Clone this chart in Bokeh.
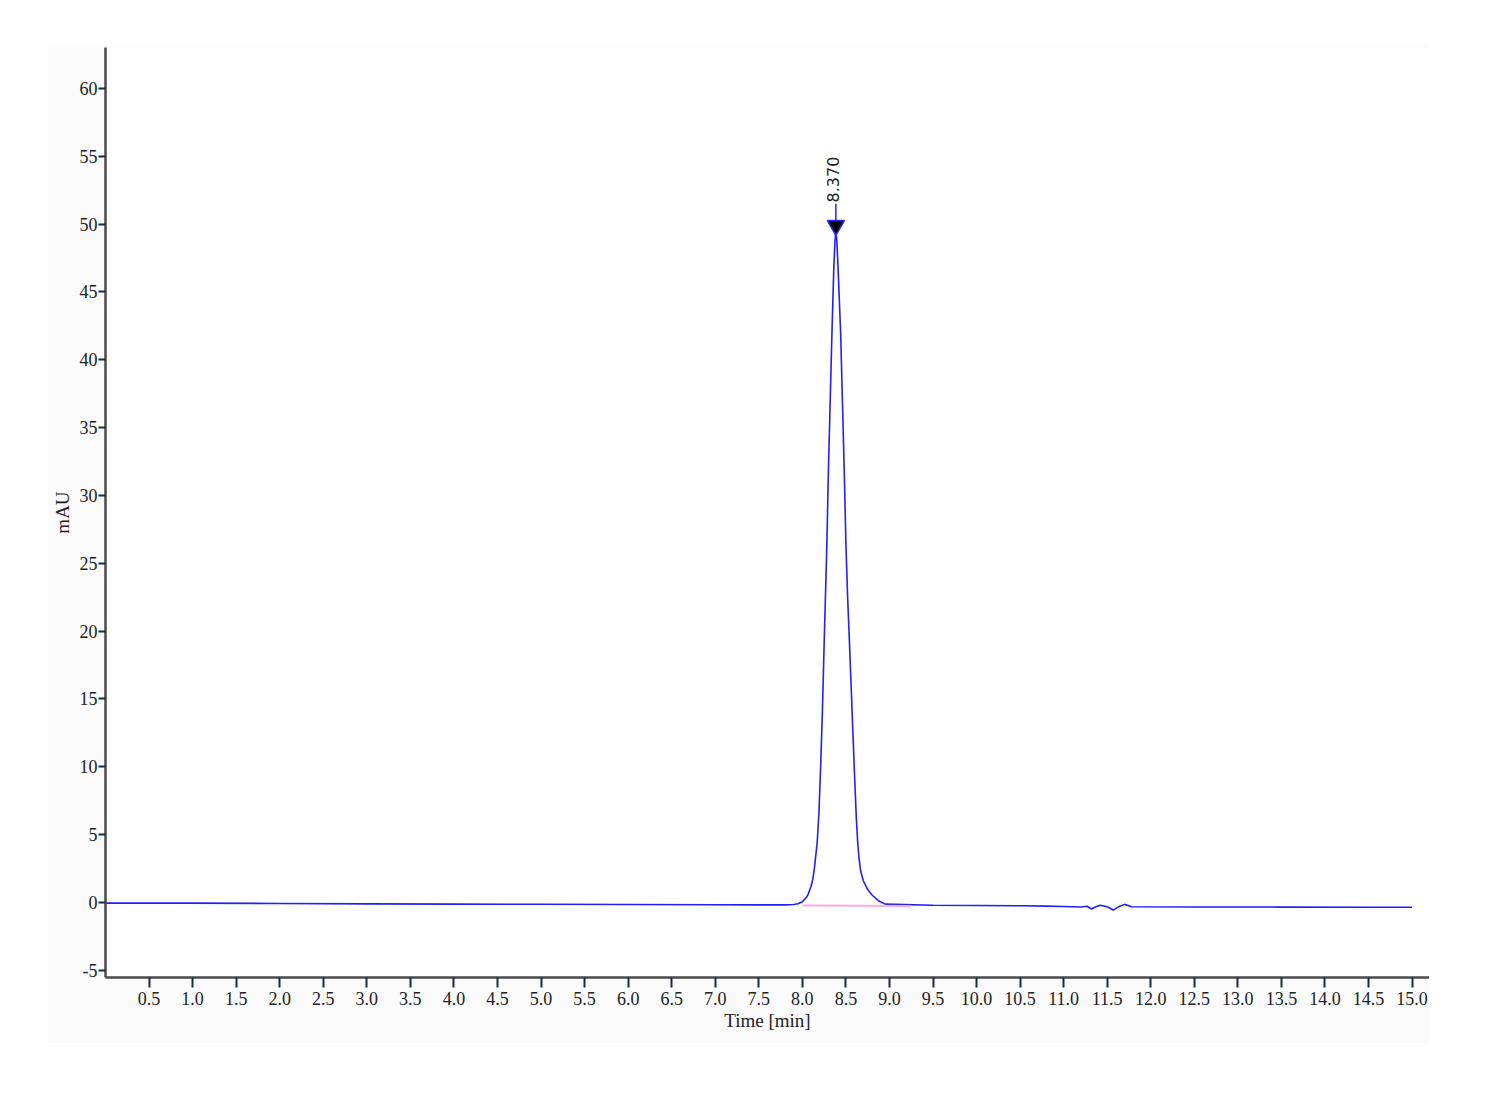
from bokeh.plotting import figure
from bokeh.models import FixedTicker, Range1d, ColumnDataSource
from bokeh.embed import file_html
from bokeh.resources import INLINE
from bokeh.core.properties import value
import math

# Chromatogram signal (time in min, signal in mAU)
time_min = [0.0, 1.0, 2.0, 3.0, 4.0, 5.0, 6.0, 7.0, 7.5, 7.8, 7.9, 7.95,
            8.00, 8.05, 8.07, 8.10, 8.12, 8.14, 8.17, 8.19, 8.21, 8.23, 8.25,
            8.28, 8.30, 8.32, 8.34, 8.36, 8.375, 8.385, 8.395, 8.41, 8.44,
            8.46, 8.48, 8.50, 8.52, 8.54, 8.56, 8.58, 8.60, 8.62, 8.635, 8.65,
            8.67, 8.70, 8.75, 8.80, 8.87, 8.95, 9.5, 10.0, 10.5, 10.8, 11.0,
            11.2, 11.27, 11.32, 11.37, 11.42, 11.50, 11.57, 11.63, 11.70,
            11.78, 12.5, 13.5, 14.5, 15.0]
signal_mau = [-0.05, -0.05, -0.07, -0.10, -0.12, -0.13, -0.15, -0.17, -0.18,
              -0.18, -0.15, -0.10,
              0.05, 0.40, 0.66, 1.20, 1.70, 2.60, 4.40, 6.50, 10.0, 14.0, 19.0,
              26.0, 32.0, 37.0, 42.0, 46.5, 48.8, 49.4, 48.9, 46.8, 41.9,
              37.0, 32.1, 26.5, 22.5, 19.3, 16.0, 12.6, 9.3, 6.2, 4.5, 3.3,
              2.3, 1.6, 0.95, 0.55, 0.15, -0.12, -0.20, -0.22, -0.24, -0.27,
              -0.30, -0.33, -0.28, -0.48, -0.32, -0.20, -0.32, -0.56, -0.32,
              -0.14, -0.32, -0.33, -0.34, -0.35, -0.35]

# Integration baseline of the peak
baseline_time = [8.00, 9.25]
baseline_mau = [-0.22, -0.26]

# Peak marker
peak_time = [8.385]
peak_top = [49.9]
peak_label = ["8.370"]

x_ticks = [0.5, 1.0, 1.5, 2.0, 2.5, 3.0, 3.5, 4.0, 4.5, 5.0, 5.5, 6.0, 6.5,
           7.0, 7.5, 8.0, 8.5, 9.0, 9.5, 10.0, 10.5, 11.0, 11.5, 12.0, 12.5,
           13.0, 13.5, 14.0, 14.5, 15.0]
x_tick_labels = ["0.5", "1.0", "1.5", "2.0", "2.5", "3.0", "3.5", "4.0", "4.5",
                 "5.0", "5.5", "6.0", "6.5", "7.0", "7.5", "8.0", "8.5", "9.0",
                 "9.5", "10.0", "10.5", "11.0", "11.5", "12.0", "12.5", "13.0",
                 "13.5", "14.0", "14.5", "15.0"]
y_ticks = [-5, 0, 5, 10, 15, 20, 25, 30, 35, 40, 45, 50, 55, 60]
y_tick_labels = ["-5", "0", "5", "10", "15", "20", "25", "30", "35", "40",
                 "45", "50", "55", "60"]

SERIF = "Liberation Serif"

p = figure(width=1382, height=998,
           x_range=Range1d(0, 15.2), y_range=Range1d(-5.53, 63.02),
           output_backend="svg", toolbar_location=None,
           min_border_left=58, min_border_right=0, min_border_top=2,
           min_border_bottom=66, margin=(45, 0, 0, 47),
           border_fill_color="#fafafa", background_fill_color="white",
           outline_line_color=None)
p.grid.visible = False

src = ColumnDataSource(dict(t=time_min, s=signal_mau))
p.line("t", "s", source=src, line_color="#1f1fff", line_width=1.6)
p.line(baseline_time, baseline_mau, line_color="#ffaadd", line_width=2)

# marker stem, triangle and label
p.segment(x0=peak_time, y0=[v + 0.4 for v in peak_top],
          x1=peak_time, y1=[v + 1.6 for v in peak_top],
          line_color="#1f1fff", line_width=1.5)
p.scatter(peak_time, peak_top, marker="inverted_triangle", size=17,
          fill_color="black", line_color="#2a2aff", line_width=1.5)
p.text(x=[t - 0.03 for t in peak_time], y=[v + 1.7 for v in peak_top],
       text=peak_label, angle=math.pi / 2, text_align="left",
       text_baseline="middle", text_font=value("DejaVu Sans"),
       text_font_size="16px", text_color="#222222")

for ax in (p.xaxis[0], p.yaxis[0]):
    ax.axis_line_color = "#4a4a4a"
    ax.axis_line_width = 2.5
    ax.major_tick_line_color = "#1c2b3a"
    ax.major_tick_line_width = 2
    ax.major_tick_in = 0
    ax.minor_tick_line_color = None
    ax.major_label_text_font = SERIF
    ax.major_label_text_font_size = "18px"
    ax.major_label_text_color = "#222222"
    ax.axis_label_text_font = SERIF
    ax.axis_label_text_font_size = "19px"
    ax.axis_label_text_font_style = "normal"
    ax.axis_label_text_color = "#222222"

p.xaxis.ticker = FixedTicker(ticks=x_ticks)
p.xaxis.major_label_overrides = dict(zip(x_ticks, x_tick_labels))
p.xaxis.major_tick_out = 10
p.xaxis.major_label_standoff = 4
p.xaxis.axis_label = "Time [min]"
p.xaxis.axis_label_standoff = 2

p.yaxis.ticker = FixedTicker(ticks=y_ticks)
p.yaxis.major_label_overrides = dict(zip(y_ticks, y_tick_labels))
p.yaxis.major_tick_out = 7
p.yaxis.major_label_standoff = 1
p.yaxis.axis_label = "mAU"
p.yaxis.axis_label_standoff = 4

open("out.html", "w").write(file_html(p, INLINE))
